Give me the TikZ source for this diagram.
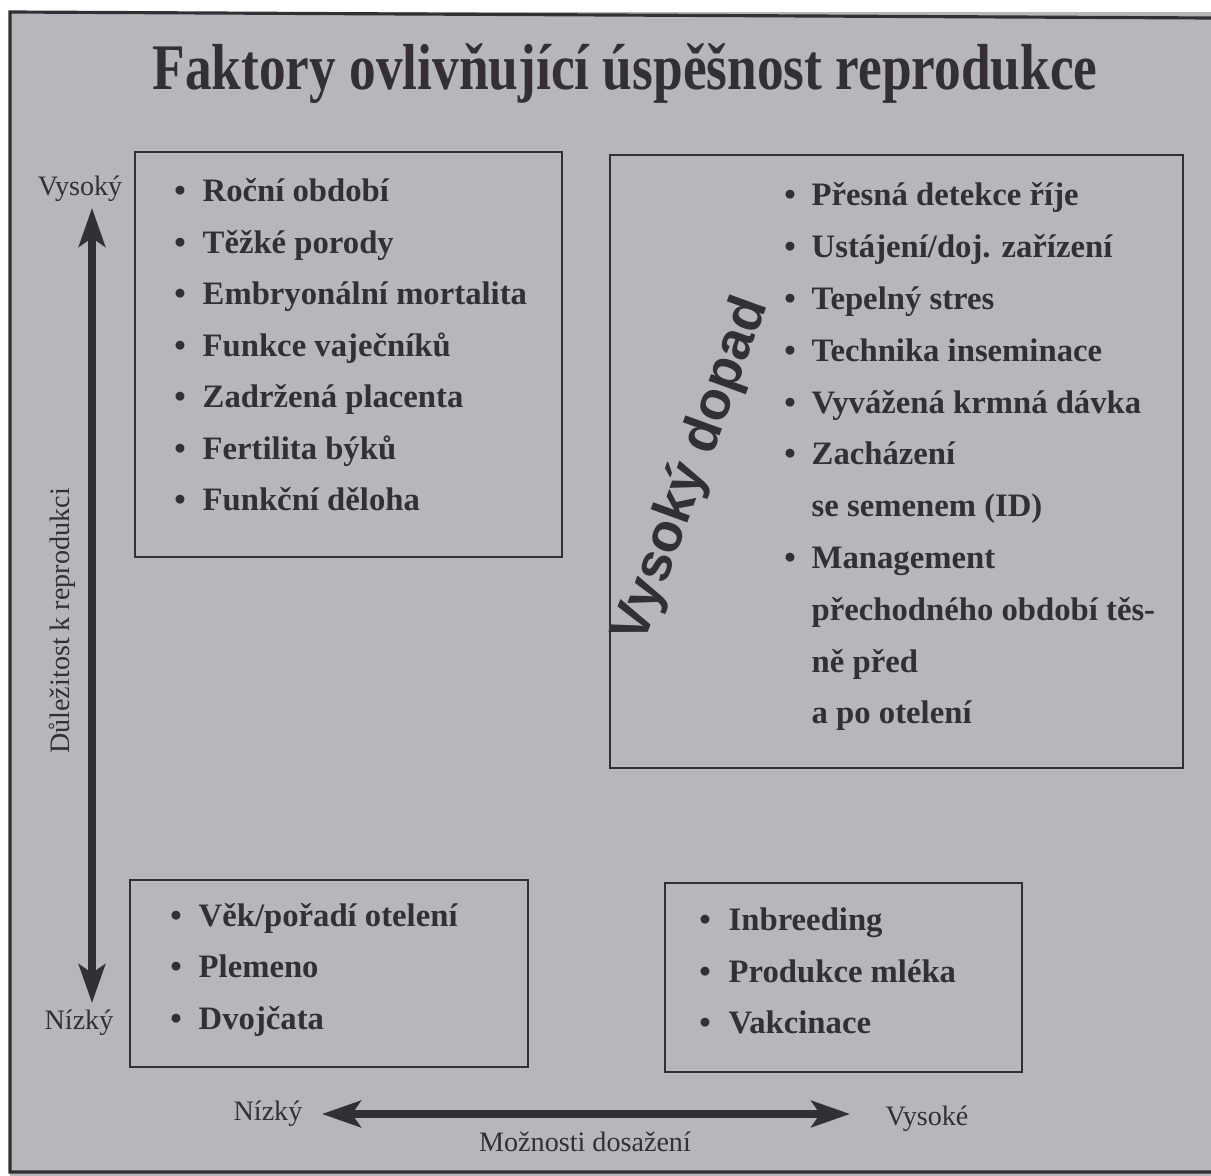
\documentclass[tikz,border=0pt]{standalone}
\usepackage{fontspec}
\setmainfont{Liberation Serif}
\newfontfamily\dopadfont{Liberation Sans}
\usetikzlibrary{arrows.meta,positioning}
\definecolor{paper}{RGB}{183,182,187}
\definecolor{ink}{RGB}{50,48,52}

\tikzset{
  box/.style={draw=ink, line width=0.6pt},
  itemtext/.style={anchor=base west, inner sep=0pt, text=ink,
    font=\fontsize{9.3}{11}\selectfont\bfseries},
  dotmark/.style={anchor=base, inner sep=0pt, text=ink,
    font=\fontsize{9.3}{11}\selectfont\bfseries},
  axislabel/.style={inner sep=0pt, text=ink, font=\fontsize{8}{10}\selectfont},
  axisarrow/.style={draw=ink, line width=2pt,
    {Stealth[length=11pt,width=7.5pt,inset=2.5pt]}-{Stealth[length=11pt,width=7.5pt,inset=2.5pt]}}
}

\begin{document}
\begin{tikzpicture}[x=0.01cm,y=-0.01cm]
    \useasboundingbox (0,0) rectangle (1211,1176);
    \fill[white] (0,0) rectangle (1211,1176);
    \fill[paper] (10,12) rectangle (1211,1176);
    \draw[ink, line width=0.9pt] (1211,18) -- (10,12) -- (10,1172) -- (1211,1172);

    % title
    \node[anchor=base, inner sep=0pt, text=ink, xscale=0.82,
      font=\fontsize{18.5}{22}\selectfont\bfseries] (title) at (625,90)
      {Faktory ovlivňující úspěšnost reprodukce};

    % quadrant boxes
    \draw[box] (135,152) rectangle (562,557);
    \draw[box] (610,155) rectangle (1183,768);
    \draw[box] (130,880) rectangle (528,1067);
    \draw[box] (665,883) rectangle (1022,1072);

    % top left
    \foreach \txt [count=\i from 0] in {Roční období, Těžké porody,
        Embryonální mortalita, Funkce vaječníků, Zadržená placenta,
        Fertilita býků, Funkční děloha} {
      \node[dotmark] (tlb\i) at (180,{202+51.5*\i}) {•};
      \node[itemtext] (tl\i) at (202,{202+51.5*\i}) {\txt};
    }

    % top right
    \foreach \b/\txt [count=\i from 0] in {1/Přesná detekce říje,
        1/{Ustájení/doj. zařízení}, 1/Tepelný stres, 1/Technika inseminace,
        1/Vyvážená krmná dávka, 1/Zacházení, 0/se semenem (ID),
        1/Management, 0/přechodného období těs-, 0/ně před,
        0/a po otelení} {
      \ifnum\b=1 \node[dotmark] (trb\i) at (790,{206+51.8*\i}) {•}; \fi
      \node[itemtext] (tr\i) at (811,{206+51.8*\i}) {\txt};
    }
    \node[rotate=70, inner sep=0pt, text=ink,
      font=\dopadfont\fontsize{15.3}{18}\selectfont\bfseries] (dopad) at (692,470)
      {Vysoký dopad};

    % bottom left
    \foreach \txt [count=\i from 0] in {Věk/pořadí otelení, Plemeno, Dvojčata} {
      \node[dotmark] (blb\i) at (176,{926+52*\i}) {•};
      \node[itemtext] (bl\i) at (198,{926+52*\i}) {\txt};
    }

    % bottom right
    \foreach \txt [count=\i from 0] in {Inbreeding, Produkce mléka, Vakcinace} {
      \node[dotmark] (brb\i) at (705,{930+52*\i}) {•};
      \node[itemtext] (br\i) at (728,{930+52*\i}) {\txt};
    }

    % vertical axis
    \node[axislabel, anchor=base] (highY) at (80,196) {Vysoký};
    \node[axislabel, anchor=base] (lowY) at (79,1030) {Nízký};
    \node[axislabel, rotate=90] (impY) at (62,621) {Důležitost k reprodukci};
    \coordinate (ytop) at (92,208);
    \coordinate (ybot) at (92,1003);
    \draw[axisarrow] (ybot) -- (ytop);

    % horizontal axis
    \node[axislabel, anchor=base] (lowX) at (268,1120) {Nízký};
    \node[axislabel, anchor=base] (highX) at (927,1125) {Vysoké};
    \node[axislabel, anchor=base] (possX) at (585,1152) {Možnosti dosažení};
    \coordinate (xleft) at (322,1114);
    \coordinate (xright) at (850,1114);
    \draw[axisarrow] (xleft) -- (xright);
\end{tikzpicture}
\end{document}
